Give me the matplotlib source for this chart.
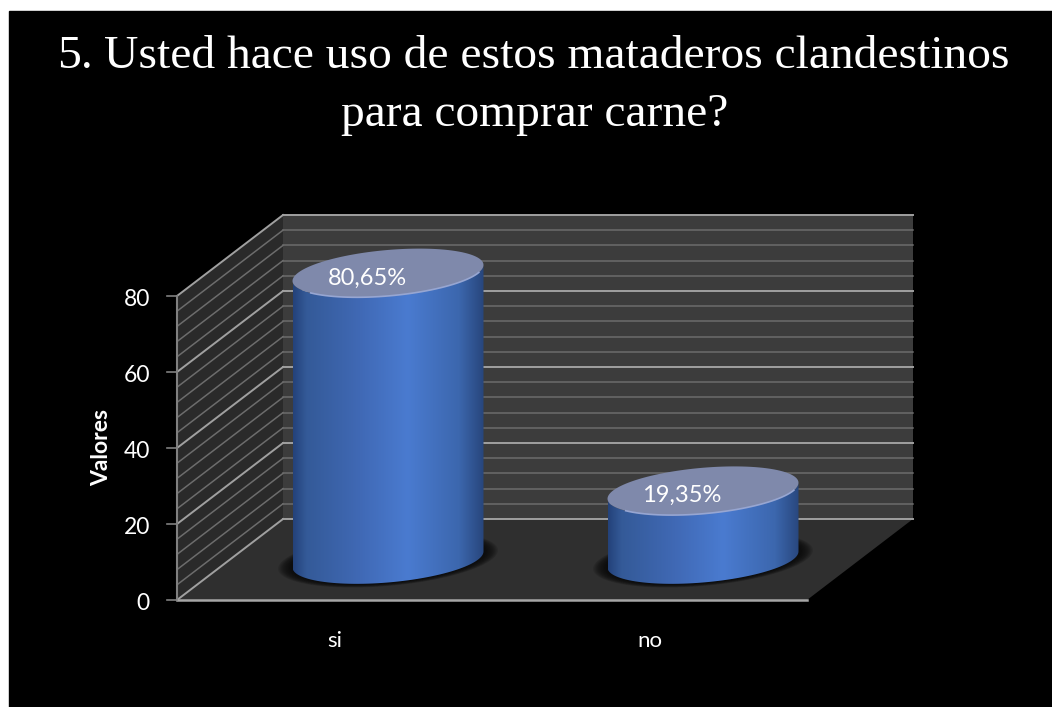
#!/usr/bin/env python3
"""Fake 3D cylinder column chart on a black slide."""

import numpy as np
import matplotlib

matplotlib.use("Agg")
import matplotlib.pyplot as plt
from matplotlib.colors import LinearSegmentedColormap
from matplotlib.patches import Polygon, Rectangle

TITLE_NUMBER = "5."
TITLE_LINES = ["Usted hace uso de estos mataderos clandestinos", "para comprar carne?"]
CATEGORIES = ["si", "no"]
VALUES = [80.65, 19.35]
VALUE_LABELS = ["80,65%", "19,35%"]
Y_TICKS = [0, 20, 40, 60, 80]
MINOR_STEP = 4
Y_LABEL = "Valores"
LABEL_FONT = ["Lato", "DejaVu Sans"]

W, H = 1052, 707
# one category = 315 px, one value unit = 3.8 px, x=-0.5 / y=0 sit at pixel (177, 600)
PX_X, PX_Y = 315.0, 3.8
X0_PX, Y0_PX = 177 + 0.5 * PX_X, 600.0
DEPTH_X, DEPTH_Y = 106 / PX_X, 81 / PX_Y  # oblique offset of the back wall
BAR_OFF_X, BAR_OFF_Y = 53.5 / PX_X, 40.5 / PX_Y  # columns stand mid floor
BAR_SCALE = 0.935  # columns look a little shorter further back
BAR_HALF = 95.5 / PX_X
ELL_B = 23 / PX_Y
ELL_SHEAR = 8 / PX_Y

fig = plt.figure(figsize=(W / 100, H / 100), dpi=100, facecolor="white")
ax = fig.add_axes([0, 0, 1, 1])
ax.set_xlim(-X0_PX / PX_X, (W - X0_PX) / PX_X)
ax.set_ylim((Y0_PX - H) / PX_Y, Y0_PX / PX_Y)
ax.axis("off")

xl, yb = ax.get_xlim()[0], ax.get_ylim()[0]
ax.add_patch(Rectangle((xl + 9 / PX_X, yb), (W - 9) / PX_X, (H - 11) / PX_Y,
                       color="black", zorder=0))

x_a, x_b = -0.5, len(CATEGORIES) - 0.5
y_top = Y_TICKS[-1]
ax.add_patch(Polygon([(x_a + DEPTH_X, DEPTH_Y), (x_b + DEPTH_X, DEPTH_Y),
                      (x_b + DEPTH_X, y_top + DEPTH_Y), (x_a + DEPTH_X, y_top + DEPTH_Y)],
                     color="#3c3c3c", lw=0, zorder=1))
ax.add_patch(Polygon([(x_a, 0), (x_a + DEPTH_X, DEPTH_Y), (x_a + DEPTH_X, y_top + DEPTH_Y),
                      (x_a, y_top)], color="#2a2a2a", lw=0, zorder=1))
ax.add_patch(Polygon([(x_a, 0), (x_b, 0), (x_b + DEPTH_X, DEPTH_Y), (x_a + DEPTH_X, DEPTH_Y)],
                     color="#2f2f2f", lw=0, zorder=1))

# gridlines, wall and side
for v in np.arange(0, y_top + 1, MINOR_STEP):
    major = v in Y_TICKS
    col = "#a0a0a0" if major else "#6c6c6c"
    lw = 1.4 if major else 1.1
    ax.plot([x_a + DEPTH_X, x_b + DEPTH_X], [v + DEPTH_Y] * 2, color=col, lw=lw, zorder=2)
    ax.plot([x_a, x_a + DEPTH_X], [v, v + DEPTH_Y], color=col, lw=lw, zorder=2)

# axes
ax.plot([x_a, x_a], [0, y_top], color="#808080", lw=1.5, zorder=3)
ax.plot([x_a, x_b], [0, 0], color="#a6a6a6", lw=1.8, zorder=3)
for v in Y_TICKS:
    ax.plot([x_a - 10 / PX_X, x_a], [v, v], color="#808080", lw=1.2, zorder=3)
    ax.text(x_a - 27 / PX_X, v - 3.5 / PX_Y, str(v), color="white", fontsize=16.5, ha="right",
            va="center", family=LABEL_FONT, zorder=6)
ax.text(x_a - 75 / PX_X, 40, Y_LABEL, color="white", fontsize=16.5, fontweight="bold",
        rotation=90, ha="center", va="center", family=LABEL_FONT, zorder=6)

cyl_cmap = LinearSegmentedColormap.from_list(
    "cyl", [(0, "#24427a"), (0.07, "#345a98"), (0.35, "#4069b5"), (0.6, "#4a7bd0"),
            (0.87, "#3c67ae"), (1, "#28467c")])
theta = np.linspace(0, 2 * np.pi, 121)
front = np.linspace(np.pi, 2 * np.pi, 61)
rim = np.linspace(1.2 * np.pi, 1.9 * np.pi, 40)


def ellipse(cx, cy, t, scale=1.0):
    ex = cx + scale * BAR_HALF * np.cos(t)
    ey = cy + ELL_SHEAR * np.cos(t) * scale + scale * ELL_B * np.sin(t)
    return ex, ey


for i, (name, val, text) in enumerate(zip(CATEGORIES, VALUES, VALUE_LABELS)):
    cx = i + BAR_OFF_X
    base = BAR_OFF_Y
    top = base + val * BAR_SCALE

    # soft shadow under the base
    for s in np.linspace(1.15, 1.0, 12):
        sx, sy = ellipse(cx, base, theta, s)
        ax.fill(sx, sy, color="#0a0a0a", alpha=0.16, lw=0, zorder=4)

    bx, by = ellipse(cx, base, front)
    tx, ty = ellipse(cx, top, front)
    verts = np.column_stack([np.r_[bx, tx[::-1]], np.r_[by, ty[::-1]]])
    body = Polygon(verts, closed=True, transform=ax.transData, fc="none", ec="none")
    ax.add_patch(body)
    extent = (cx - BAR_HALF, cx + BAR_HALF, base - 10, top + 10)
    im = ax.imshow(np.linspace(0, 1, 256)[None, :], cmap=cyl_cmap, extent=extent,
                   aspect="auto", zorder=5, interpolation="bilinear")
    im.set_clip_path(body)

    # lighter lid with a pale front rim
    rx, ry = ellipse(cx, top, theta)
    ax.fill(rx, ry, color="#7f89ab", lw=0, zorder=5.1)
    gx, gy = ellipse(cx, top, rim)
    ax.plot(gx, gy, color="#97a6d2", lw=1.2, zorder=5.2)

    ax.text(cx - 21 / PX_X, top - 5 / PX_Y, text, color="white", fontsize=17, ha="center",
            va="center", family=LABEL_FONT, zorder=6)
    ax.text(i, -41 / PX_Y, name, color="white", fontsize=16, ha="center", va="center",
            family=LABEL_FONT, zorder=6)

ax.set_xlim(-X0_PX / PX_X, (W - X0_PX) / PX_X)
ax.set_ylim((Y0_PX - H) / PX_Y, Y0_PX / PX_Y)

ax.text(57 / W, 1 - 57 / H, TITLE_NUMBER, transform=ax.transAxes, color="white", fontsize=34.2,
        family="Liberation Serif", ha="left", va="center", zorder=6)
ax.text(104 / W, 1 - 57 / H, TITLE_LINES[0], transform=ax.transAxes, color="white", fontsize=34.2,
        family="Liberation Serif", ha="left", va="center", zorder=6)
ax.text(534.5 / W, 1 - 115 / H, TITLE_LINES[1], transform=ax.transAxes, color="white", fontsize=34.2,
        family="Liberation Serif", ha="center", va="center", zorder=6)

fig.savefig("out.png", dpi=100, facecolor="white")
